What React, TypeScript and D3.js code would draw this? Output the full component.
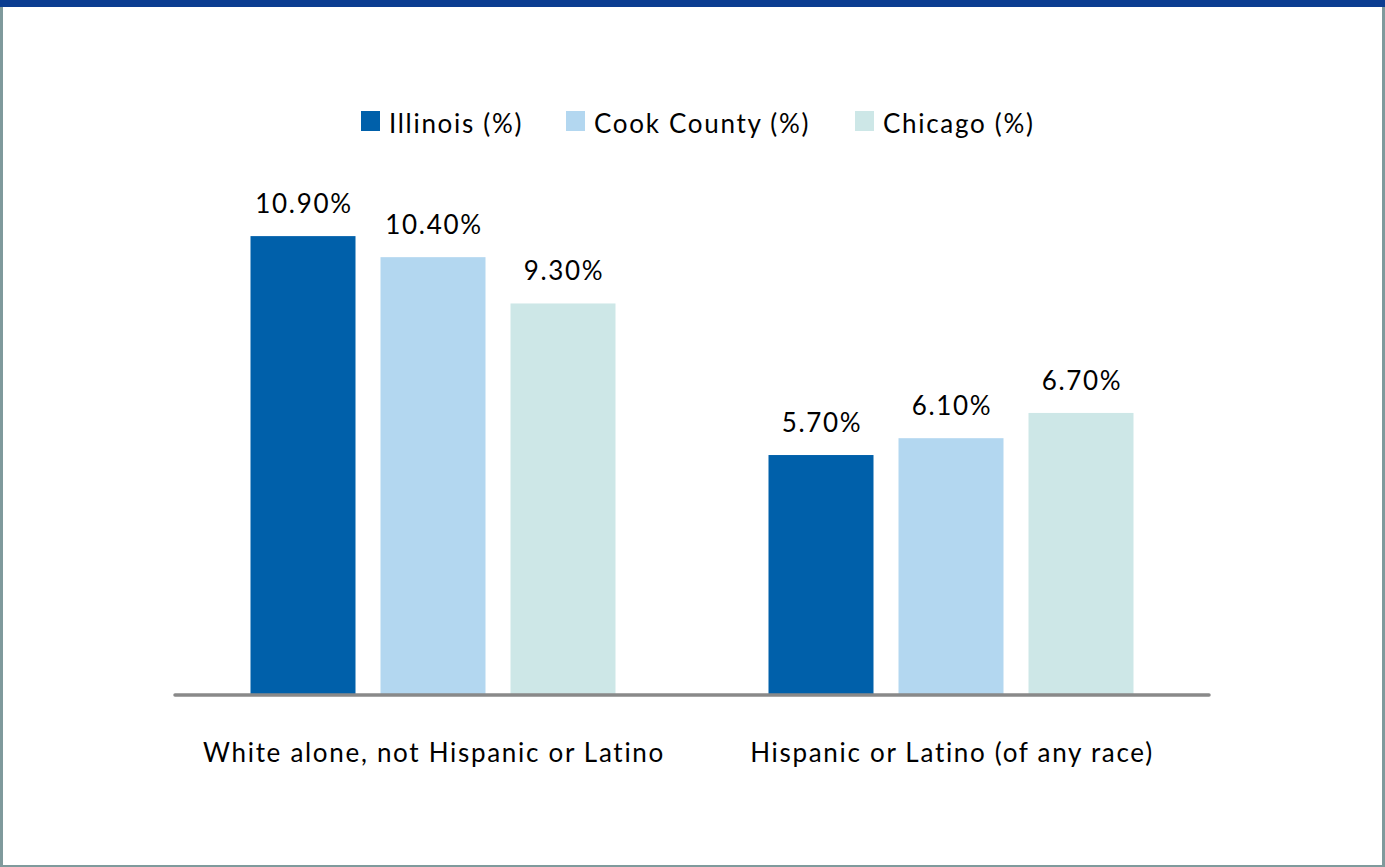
import React from "react";
import * as d3 from "d3";

const categories = ["White alone, not Hispanic or Latino", "Hispanic or Latino (of any race)"];
const seriesNames = ["Illinois (%)", "Cook County (%)", "Chicago (%)"];
const illinois = [10.9, 5.7];
const cookCounty = [10.4, 6.1];
const chicago = [9.3, 6.7];
const seriesValues = [illinois, cookCounty, chicago];
const colors = ["#0060AA", "#B3D7F0", "#CDE7E7"];

const W = 1385;
const H = 867;
const FONT = "Lato, 'Open Sans', sans-serif";

export default function App() {
  const baseY = 695;
  const y = d3.scaleLinear().domain([0, 12]).range([baseY, baseY - 12 * 42.1]);
  const x0 = d3.scaleBand<string>().domain(categories).range([174, 1210]).padding(0);
  const groupInner = 365;
  const x1 = d3
    .scaleBand<string>()
    .domain(seriesNames)
    .range([0, groupInner])
    .paddingInner(25 / 130)
    .paddingOuter(0);
  const groupOffset = (x0.bandwidth() - groupInner) / 2;

  const legendItems = [
    { x: 361, label: seriesNames[0] },
    { x: 566, label: seriesNames[1] },
    { x: 855, label: seriesNames[2] },
  ];

  return (
    <svg
      width={W}
      height={H}
      style={{ position: "fixed", left: 0, top: 0, background: "#fff" }}
      fontFamily={FONT}
      letterSpacing={1.7}
    >
      <rect x={0} y={0} width={W} height={H} fill="#fff" />
      {/* borders */}
      <rect x={0} y={0} width={3} height={H} fill="#7F9A9C" />
      <rect x={W - 3} y={0} width={3} height={H} fill="#7F9A9C" />
      <rect x={0} y={H - 2} width={W} height={2} fill="#7F9A9C" />
      <rect x={0} y={0} width={W} height={7} fill="#0B3D91" />

      {/* legend */}
      {legendItems.map((l, i) => (
        <g key={l.label}>
          <rect x={l.x} y={111} width={19} height={20} fill={colors[i]} />
          <text x={l.x + 28} y={133} fontSize={26} fill="#000">
            {l.label}
          </text>
        </g>
      ))}

      {/* bars */}
      {categories.map((c, ci) => (
        <g key={c} transform={`translate(${(x0(c) ?? 0) + groupOffset},0)`}>
          {seriesNames.map((s, si) => {
            const v = seriesValues[si][ci];
            const bx = x1(s) ?? 0;
            return (
              <g key={s}>
                <rect x={bx} y={y(v)} width={x1.bandwidth()} height={baseY - y(v)} fill={colors[si]} />
                <text
                  x={bx + x1.bandwidth() / 2 + 1}
                  y={y(v) - 23}
                  textAnchor="middle"
                  fontSize={26}
                  fill="#000"
                >
                  {v.toFixed(2) + "%"}
                </text>
              </g>
            );
          })}
        </g>
      ))}

      {/* axis line */}
      <line x1={175} x2={1209} y1={baseY} y2={baseY} stroke="#898989" strokeWidth={3.5} strokeLinecap="round" />

      {/* category labels */}
      {categories.map((c) => (
        <text
          key={c}
          x={(x0(c) ?? 0) + x0.bandwidth() / 2 + 1}
          y={762}
          textAnchor="middle"
          fontSize={26}
          fill="#000"
        >
          {c}
        </text>
      ))}
    </svg>
  );
}
